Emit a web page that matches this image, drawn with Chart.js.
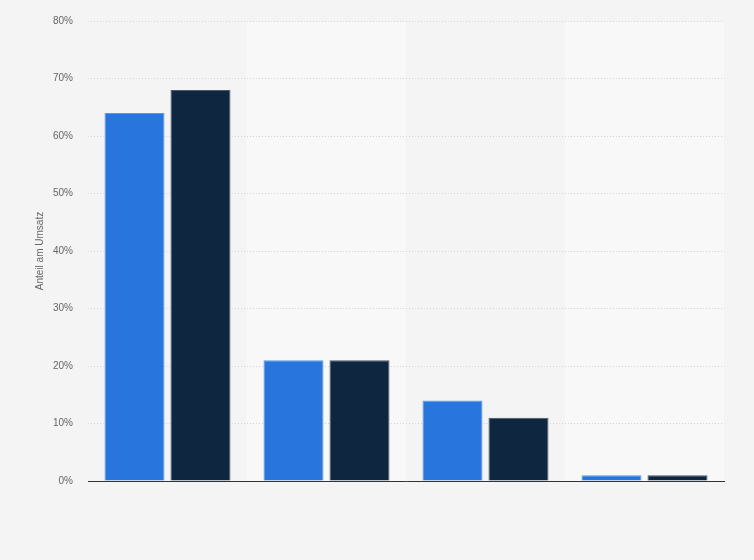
<!DOCTYPE html>
<html>
<head>
<meta charset="utf-8">
<script src="https://cdn.jsdelivr.net/npm/chart.js@4.4.0/dist/chart.umd.min.js"></script>
<style>
html,body{margin:0;padding:0;background:#f4f4f4;}
#wrap{width:754px;height:560px;position:relative;}
</style>
</head>
<body>
<div id="wrap"><canvas id="c"></canvas></div>
<script>
const categories = ["", "", "", ""];
const seriesA = [64, 21, 14, 1];
const seriesB = [68, 21, 11, 1];
const seriesNames = ["Serie 1", "Serie 2"];
const yTicks = [0, 10, 20, 30, 40, 50, 60, 70, 80];

const bandPlugin = {
  id: 'bands',
  beforeDraw(chart) {
    const {ctx, chartArea, scales} = chart;
    const x = scales.x;
    ctx.save();
    ctx.fillStyle = '#f8f8f8';
    for (let i = 0; i < categories.length; i++) {
      if (i % 2 === 1) {
        const c = x.getPixelForValue(i);
        const half = (x.getPixelForValue(1) - x.getPixelForValue(0)) / 2;
        ctx.fillRect(c - half, chartArea.top + 1, half * 2, chartArea.bottom - chartArea.top - 1);
      }
    }
    ctx.restore();
  }
};

new Chart(document.getElementById('c'), {
  type: 'bar',
  data: {
    labels: categories,
    datasets: [
      {label: seriesNames[0], data: seriesA, backgroundColor: '#2876dd', borderColor: '#5d98e6', borderWidth: 1},
      {label: seriesNames[1], data: seriesB, backgroundColor: '#0f2640', borderColor: '#4a5a6c', borderWidth: 1}
    ]
  },
  options: {
    responsive: true,
    maintainAspectRatio: false,
    animation: false,
    layout: {padding: {top: 14, right: 30, bottom: 59, left: 0}},
    plugins: {legend: {display: false}, tooltip: {enabled: false}},
    datasets: {bar: {categoryPercentage: 0.83, barPercentage: 0.91}},
    scales: {
      x: {
        grid: {display: false, drawTicks: false},
        border: {display: true, color: '#333333', width: 1},
        ticks: {display: true, font: {size: 10}, padding: 4}
      },
      y: {
        min: 0, max: 80,
        afterBuildTicks(axis) { axis.ticks = yTicks.map(v => ({value: v})); },
        afterFit(axis) { axis.width = 88; },
        grid: {color: '#d4d4d4', drawTicks: false, lineWidth: 1},
        border: {display: false, dash: [1, 2]},
        ticks: {
          callback: v => v + '%',
          color: '#666666',
          font: {family: 'Arial, Liberation Sans, sans-serif', size: 10},
          padding: 15
        },
        title: {
          display: true,
          text: 'Anteil am Umsatz',
          color: '#666666',
          font: {family: 'Arial, Liberation Sans, sans-serif', size: 10},
          padding: {top: 34, bottom: 4}
        }
      }
    }
  },
  plugins: [bandPlugin]
});
</script>
</body>
</html>
